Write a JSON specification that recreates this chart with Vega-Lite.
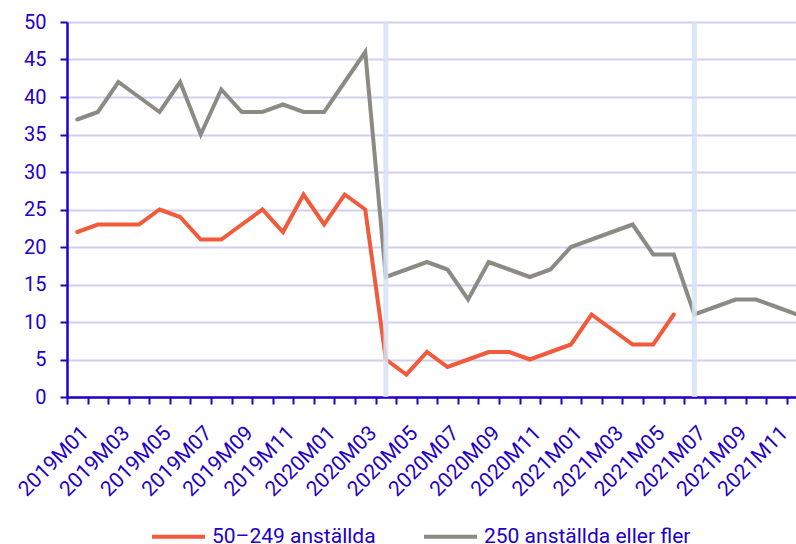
{
  "$schema": "https://vega.github.io/schema/vega-lite/v6.json",
  "autosize": {"type": "none"},
  "width": 729,
  "height": 375,
  "padding": {"left": 67, "top": 22, "right": 0, "bottom": 147},
  "background": "white",
  "config": {
    "font": "Roboto",
    "view": {"stroke": null}
  },
  "datasets": {
    "series": [
      {"month": "2019M01", "group": "50–249 anställda", "value": 22},
      {"month": "2019M02", "group": "50–249 anställda", "value": 23},
      {"month": "2019M03", "group": "50–249 anställda", "value": 23},
      {"month": "2019M04", "group": "50–249 anställda", "value": 23},
      {"month": "2019M05", "group": "50–249 anställda", "value": 25},
      {"month": "2019M06", "group": "50–249 anställda", "value": 24},
      {"month": "2019M07", "group": "50–249 anställda", "value": 21},
      {"month": "2019M08", "group": "50–249 anställda", "value": 21},
      {"month": "2019M09", "group": "50–249 anställda", "value": 23},
      {"month": "2019M10", "group": "50–249 anställda", "value": 25},
      {"month": "2019M11", "group": "50–249 anställda", "value": 22},
      {"month": "2019M12", "group": "50–249 anställda", "value": 27},
      {"month": "2020M01", "group": "50–249 anställda", "value": 23},
      {"month": "2020M02", "group": "50–249 anställda", "value": 27},
      {"month": "2020M03", "group": "50–249 anställda", "value": 25},
      {"month": "2020M04", "group": "50–249 anställda", "value": 5},
      {"month": "2020M05", "group": "50–249 anställda", "value": 3},
      {"month": "2020M06", "group": "50–249 anställda", "value": 6},
      {"month": "2020M07", "group": "50–249 anställda", "value": 4},
      {"month": "2020M08", "group": "50–249 anställda", "value": 5},
      {"month": "2020M09", "group": "50–249 anställda", "value": 6},
      {"month": "2020M10", "group": "50–249 anställda", "value": 6},
      {"month": "2020M11", "group": "50–249 anställda", "value": 5},
      {"month": "2020M12", "group": "50–249 anställda", "value": 6},
      {"month": "2021M01", "group": "50–249 anställda", "value": 7},
      {"month": "2021M02", "group": "50–249 anställda", "value": 11},
      {"month": "2021M03", "group": "50–249 anställda", "value": 9},
      {"month": "2021M04", "group": "50–249 anställda", "value": 7},
      {"month": "2021M05", "group": "50–249 anställda", "value": 7},
      {"month": "2021M06", "group": "50–249 anställda", "value": 11},
      {"month": "2019M01", "group": "250 anställda eller fler", "value": 37},
      {"month": "2019M02", "group": "250 anställda eller fler", "value": 38},
      {"month": "2019M03", "group": "250 anställda eller fler", "value": 42},
      {"month": "2019M04", "group": "250 anställda eller fler", "value": 40},
      {"month": "2019M05", "group": "250 anställda eller fler", "value": 38},
      {"month": "2019M06", "group": "250 anställda eller fler", "value": 42},
      {"month": "2019M07", "group": "250 anställda eller fler", "value": 35},
      {"month": "2019M08", "group": "250 anställda eller fler", "value": 41},
      {"month": "2019M09", "group": "250 anställda eller fler", "value": 38},
      {"month": "2019M10", "group": "250 anställda eller fler", "value": 38},
      {"month": "2019M11", "group": "250 anställda eller fler", "value": 39},
      {"month": "2019M12", "group": "250 anställda eller fler", "value": 38},
      {"month": "2020M01", "group": "250 anställda eller fler", "value": 38},
      {"month": "2020M02", "group": "250 anställda eller fler", "value": 42},
      {"month": "2020M03", "group": "250 anställda eller fler", "value": 46},
      {"month": "2020M04", "group": "250 anställda eller fler", "value": 16},
      {"month": "2020M05", "group": "250 anställda eller fler", "value": 17},
      {"month": "2020M06", "group": "250 anställda eller fler", "value": 18},
      {"month": "2020M07", "group": "250 anställda eller fler", "value": 17},
      {"month": "2020M08", "group": "250 anställda eller fler", "value": 13},
      {"month": "2020M09", "group": "250 anställda eller fler", "value": 18},
      {"month": "2020M10", "group": "250 anställda eller fler", "value": 17},
      {"month": "2020M11", "group": "250 anställda eller fler", "value": 16},
      {"month": "2020M12", "group": "250 anställda eller fler", "value": 17},
      {"month": "2021M01", "group": "250 anställda eller fler", "value": 20},
      {"month": "2021M02", "group": "250 anställda eller fler", "value": 21},
      {"month": "2021M03", "group": "250 anställda eller fler", "value": 22},
      {"month": "2021M04", "group": "250 anställda eller fler", "value": 23},
      {"month": "2021M05", "group": "250 anställda eller fler", "value": 19},
      {"month": "2021M06", "group": "250 anställda eller fler", "value": 19},
      {"month": "2021M07", "group": "250 anställda eller fler", "value": 11},
      {"month": "2021M08", "group": "250 anställda eller fler", "value": 12},
      {"month": "2021M09", "group": "250 anställda eller fler", "value": 13},
      {"month": "2021M10", "group": "250 anställda eller fler", "value": 13},
      {"month": "2021M11", "group": "250 anställda eller fler", "value": 12},
      {"month": "2021M12", "group": "250 anställda eller fler", "value": 11}
    ],
    "markers": [
      {"month": "2020M04"},
      {"month": "2021M07"}
    ]
  },
  "layer": [
    {
      "data": {"name": "series"},
      "mark": {"type": "line", "strokeWidth": 4, "strokeJoin": "miter", "strokeCap": "round"},
      "encoding": {
        "x": {
          "field": "month",
          "type": "ordinal",
          "scale": {"type": "band", "range": [0, 740.5], "paddingInner": 0, "paddingOuter": 0},
          "axis": {
            "title": null,
            "tickBand": "extent",
            "labelAngle": -45,
            "labelExpr": "parseInt(substring(datum.value, 5)) % 2 == 1 ? datum.value : ''",
            "labelOverlap": false,
            "labelFontSize": 21,
            "labelColor": "#2200c8",
            "labelPadding": 18,
            "labelDx": -4,
            "tickSize": 7,
            "tickWidth": 2,
            "tickColor": "#2200c8",
            "domainColor": "#2200c8",
            "domainWidth": 2.5,
            "grid": false
          }
        },
        "y": {
          "field": "value",
          "type": "quantitative",
          "scale": {"domain": [0, 50], "nice": false},
          "axis": {
            "title": null,
            "values": [0, 5, 10, 15, 20, 25, 30, 35, 40, 45, 50],
            "labelFontSize": 20,
            "labelColor": "#2200c8",
            "labelPadding": 14,
            "tickSize": 7,
            "tickWidth": 2,
            "tickColor": "#2200c8",
            "domainColor": "#2200c8",
            "domainWidth": 2.5,
            "grid": true,
            "gridColor": "#cfd0f0",
            "gridWidth": 2
          }
        },
        "color": {
          "field": "group",
          "type": "nominal",
          "scale": {
            "domain": ["50–249 anställda", "250 anställda eller fler"],
            "range": ["#f15a3b", "#8b8b84"]
          },
          "legend": {
            "title": null,
            "orient": "none",
            "direction": "horizontal",
            "legendX": 83,
            "legendY": 486,
            "symbolType": "stroke",
            "symbolSize": 2809,
            "symbolStrokeWidth": 4,
            "labelFontSize": 21,
            "labelLimit": 400,
            "labelColor": "#2200c8",
            "labelOffset": 5,
            "columnPadding": 40
          }
        }
      }
    },
    {
      "data": {"name": "markers"},
      "mark": {"type": "rule", "strokeWidth": 5, "color": "#d6e2f4", "opacity": 0.85},
      "encoding": {
        "x": {"field": "month", "type": "ordinal"}
      }
    }
  ]
}
